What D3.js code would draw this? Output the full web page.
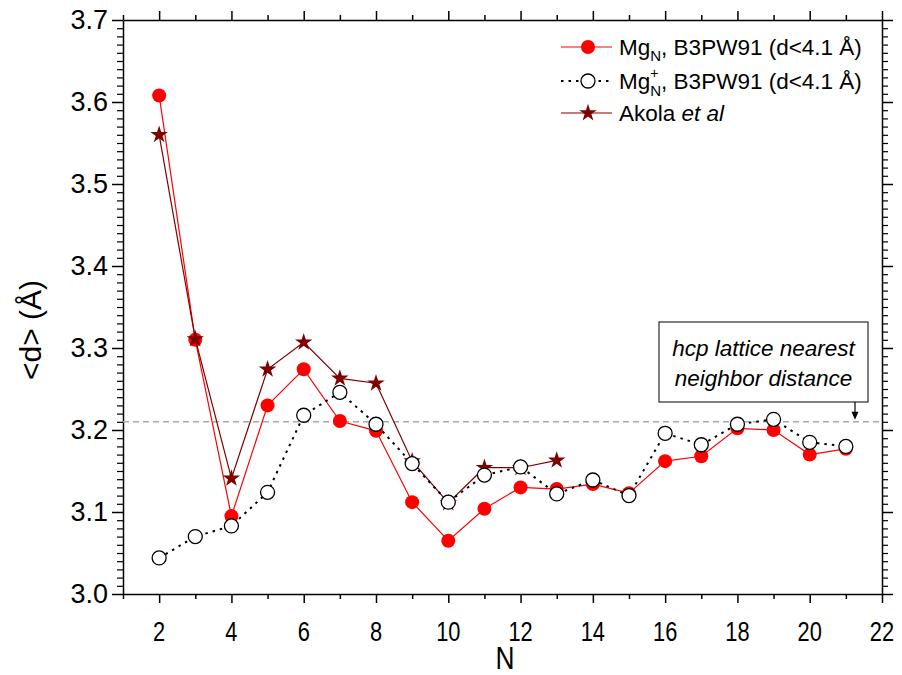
<!DOCTYPE html>
<html>
<head>
<meta charset="utf-8">
<script src="https://cdn.jsdelivr.net/npm/d3@7"></script>
<style>
  html, body { margin: 0; padding: 0; background: #fff; }
  svg { display: block; font-family: "Liberation Sans", Arial, sans-serif; }
</style>
</head>
<body>
<svg id="chart" width="902" height="675"></svg>
<script>
// ---- data ----
const nNeutral = [2,3,4,5,6,7,8,9,10,11,12,13,14,15,16,17,18,19,20,21];
const dNeutral = [3.608,3.310,3.095,3.230,3.274,3.211,3.199,3.112,3.065,3.104,3.130,3.128,3.134,3.123,3.162,3.168,3.202,3.200,3.170,3.177];
const nCation = [2,3,4,5,6,7,8,9,10,11,12,13,14,15,16,17,18,19,20,21];
const dCation = [3.044,3.070,3.083,3.124,3.218,3.246,3.207,3.159,3.112,3.145,3.155,3.122,3.139,3.120,3.196,3.182,3.207,3.213,3.185,3.180];
const nAkola = [2,3,4,5,6,7,8,9,10,11,12,13];
const dAkola = [3.560,3.311,3.141,3.274,3.307,3.263,3.257,3.162,3.111,3.154,3.154,3.163];
const hcpDistance = 3.21;
const xTickValues = [2,4,6,8,10,12,14,16,18,20,22];
const yTickValues = [3.0,3.1,3.2,3.3,3.4,3.5,3.6,3.7];
const yTickLabels = ["3.0","3.1","3.2","3.3","3.4","3.5","3.6","3.7"];
const legendLabels = ["B3PW91 (d<4.1 Å)", "B3PW91 (d<4.1 Å)", "Akola"];

// ---- layout ----
const svg = d3.select("#chart");
const L = 123, R = 882, T = 20, B = 594;
const x = d3.scaleLinear().domain([1, 22]).range([L, R]);
const y = d3.scaleLinear().domain([3.0, 3.7]).range([B, T]);

const xMinor = d3.range(1, 23, 1).filter(v => xTickValues.indexOf(v) < 0);
const yMinor = d3.range(300, 371, 1).filter(v => v % 10 !== 0).map(v => v / 100);

function styleAxis(g) {
  g.select(".domain").attr("stroke", "#000").attr("stroke-width", 1.5);
  g.selectAll(".tick line").attr("stroke", "#000").attr("stroke-width", 1.5);
}

// bottom axis
const gb = svg.append("g").attr("transform", `translate(0,${B})`);
gb.call(d3.axisBottom(x).tickValues(xTickValues).tickSize(9).tickSizeOuter(0).tickFormat(""));
styleAxis(gb);
svg.append("g").attr("transform", `translate(0,${B})`)
  .call(d3.axisBottom(x).tickValues(xMinor).tickSize(5).tickSizeOuter(0).tickFormat(""))
  .call(g => { g.select(".domain").remove(); g.selectAll(".tick line").attr("stroke","#000").attr("stroke-width",1.5); });
// x labels (narrow)
svg.append("g").selectAll("text").data(xTickValues).join("text")
  .attr("transform", d => `translate(${x(d)},${B + 47}) scale(0.78,1)`)
  .attr("text-anchor", "middle")
  .attr("font-size", 28)
  .attr("fill", "#000")
  .text(d => d);

// top axis
const gt = svg.append("g").attr("transform", `translate(0,${T})`);
gt.call(d3.axisTop(x).tickValues(xTickValues).tickSize(9).tickSizeOuter(0).tickFormat(""));
styleAxis(gt);
svg.append("g").attr("transform", `translate(0,${T})`)
  .call(d3.axisTop(x).tickValues(xMinor).tickSize(5).tickSizeOuter(0).tickFormat(""))
  .call(g => { g.select(".domain").remove(); g.selectAll(".tick line").attr("stroke","#000").attr("stroke-width",1.5); });

// left axis
const gl = svg.append("g").attr("transform", `translate(${L},0)`);
gl.call(d3.axisLeft(y).tickValues(yTickValues).tickSize(11).tickSizeOuter(0)
  .tickPadding(4).tickFormat((d, i) => yTickLabels[i]));
styleAxis(gl);
gl.selectAll(".tick text").attr("font-size", 27).attr("fill", "#000")
  .attr("font-family", "'Liberation Sans', Arial, sans-serif");
svg.append("g").attr("transform", `translate(${L},0)`)
  .call(d3.axisLeft(y).tickValues(yMinor).tickSize(6).tickSizeOuter(0).tickFormat(""))
  .call(g => { g.select(".domain").remove(); g.selectAll(".tick line").attr("stroke","#000").attr("stroke-width",1.2); });

// right axis
const gr = svg.append("g").attr("transform", `translate(${R},0)`);
gr.call(d3.axisRight(y).tickValues(yTickValues).tickSize(11).tickSizeOuter(0).tickFormat(""));
styleAxis(gr);
svg.append("g").attr("transform", `translate(${R},0)`)
  .call(d3.axisRight(y).tickValues(yMinor).tickSize(6).tickSizeOuter(0).tickFormat(""))
  .call(g => { g.select(".domain").remove(); g.selectAll(".tick line").attr("stroke","#000").attr("stroke-width",1.2); });

// axis titles
svg.append("text")
  .attr("transform", `translate(${505},${669}) scale(0.85,1)`)
  .attr("text-anchor", "middle").attr("font-size", 31).attr("fill", "#000").text("N");
svg.append("text")
  .attr("transform", `translate(${41},${330}) rotate(-90)`)
  .attr("text-anchor", "middle").attr("font-size", 30).attr("fill", "#000").text("<d> (Å)");

// hcp reference line
svg.append("line")
  .attr("x1", L).attr("x2", R).attr("y1", y(hcpDistance)).attr("y2", y(hcpDistance))
  .attr("stroke", "#a8a8a8").attr("stroke-width", 1.5).attr("stroke-dasharray", "6,4");

// annotation
const boxX = 659, boxY = 322, boxW = 209, boxH = 80;
svg.append("rect").attr("x", boxX).attr("y", boxY).attr("width", boxW).attr("height", boxH)
  .attr("fill", "#fff").attr("stroke", "#000").attr("stroke-width", 1);
svg.append("text").attr("x", boxX + boxW / 2).attr("y", boxY + 34)
  .attr("text-anchor", "middle").attr("font-size", 22.5).attr("font-style", "italic").text("hcp lattice nearest");
svg.append("text").attr("x", boxX + boxW / 2).attr("y", boxY + 64)
  .attr("text-anchor", "middle").attr("font-size", 22.5).attr("font-style", "italic").text("neighbor distance");
const arrowX = 855;
svg.append("line").attr("x1", arrowX).attr("x2", arrowX).attr("y1", boxY + boxH).attr("y2", y(hcpDistance) - 8)
  .attr("stroke", "#000").attr("stroke-width", 1.2);
svg.append("path")
  .attr("d", `M${arrowX - 3.5},${y(hcpDistance) - 10} L${arrowX + 3.5},${y(hcpDistance) - 10} L${arrowX},${y(hcpDistance) - 2} Z`)
  .attr("fill", "#000");

// series
const line = d3.line().x(d => x(d[0])).y(d => y(d[1]));
const neutral = nNeutral.map((n, i) => [n, dNeutral[i]]);
const cation = nCation.map((n, i) => [n, dCation[i]]);
const akola = nAkola.map((n, i) => [n, dAkola[i]]);

svg.append("path").datum(neutral).attr("d", line).attr("fill", "none").attr("stroke", "#ff0000").attr("stroke-width", 1.2);
svg.append("g").selectAll("circle").data(neutral).join("circle")
  .attr("cx", d => x(d[0])).attr("cy", d => y(d[1])).attr("r", 7).attr("fill", "#ff0000");

const star = d3.symbol().type(d3.symbolStar).size(95);
svg.append("path").datum(akola).attr("d", line).attr("fill", "none").attr("stroke", "#800000").attr("stroke-width", 1.2);
svg.append("g").selectAll("path").data(akola).join("path")
  .attr("transform", d => `translate(${x(d[0])},${y(d[1])})`).attr("d", star).attr("fill", "#800000");

svg.append("path").datum(cation).attr("d", line).attr("fill", "none").attr("stroke", "#000")
  .attr("stroke-width", 2).attr("stroke-dasharray", "2.5,5");
svg.append("g").selectAll("circle").data(cation).join("circle")
  .attr("cx", d => x(d[0])).attr("cy", d => y(d[1])).attr("r", 7)
  .attr("fill", "#fff").attr("stroke", "#000").attr("stroke-width", 1.3);

// legend
const lg = svg.append("g");
const lx1 = 561, lx2 = 612, lm = 588, tx = 619;
const rows = [47, 81, 113];
const lfs = 22.5;
// row 1
lg.append("line").attr("x1", lx1).attr("x2", lx2).attr("y1", rows[0]).attr("y2", rows[0]).attr("stroke", "#ff0000").attr("stroke-width", 1.2);
lg.append("circle").attr("cx", lm).attr("cy", rows[0]).attr("r", 7).attr("fill", "#ff0000");
const t1 = lg.append("text").attr("x", tx).attr("y", rows[0] + 8).attr("font-size", lfs).attr("fill", "#000");
t1.append("tspan").text("Mg");
t1.append("tspan").attr("font-size", 15).attr("dy", 6).text("N");
t1.append("tspan").attr("dy", -6).text(", " + legendLabels[0]);
// row 2
lg.append("line").attr("x1", lx1).attr("x2", lx2).attr("y1", rows[1]).attr("y2", rows[1])
  .attr("stroke", "#000").attr("stroke-width", 2).attr("stroke-dasharray", "2.5,5");
lg.append("circle").attr("cx", lm).attr("cy", rows[1]).attr("r", 7).attr("fill", "#fff").attr("stroke", "#000").attr("stroke-width", 1.3);
const t2 = lg.append("text").attr("x", tx).attr("y", rows[1] + 8).attr("font-size", lfs).attr("fill", "#000");
t2.append("tspan").text("Mg");
const plus = t2.append("tspan").attr("font-size", 14).attr("dy", -11).text("+");
const plusW = plus.node().getComputedTextLength();
t2.append("tspan").attr("font-size", 15).attr("dy", 18).attr("dx", -plusW).text("N");
t2.append("tspan").attr("dy", -7).text(", " + legendLabels[1]);
// row 3
lg.append("line").attr("x1", lx1).attr("x2", lx2).attr("y1", rows[2]).attr("y2", rows[2]).attr("stroke", "#800000").attr("stroke-width", 1.2);
lg.append("path").attr("transform", `translate(${lm},${rows[2]})`).attr("d", star).attr("fill", "#800000");
const t3 = lg.append("text").attr("x", tx).attr("y", rows[2] + 8).attr("font-size", lfs).attr("fill", "#000");
t3.append("tspan").text(legendLabels[2] + " ");
t3.append("tspan").attr("font-style", "italic").text("et al");
</script>
</body>
</html>
